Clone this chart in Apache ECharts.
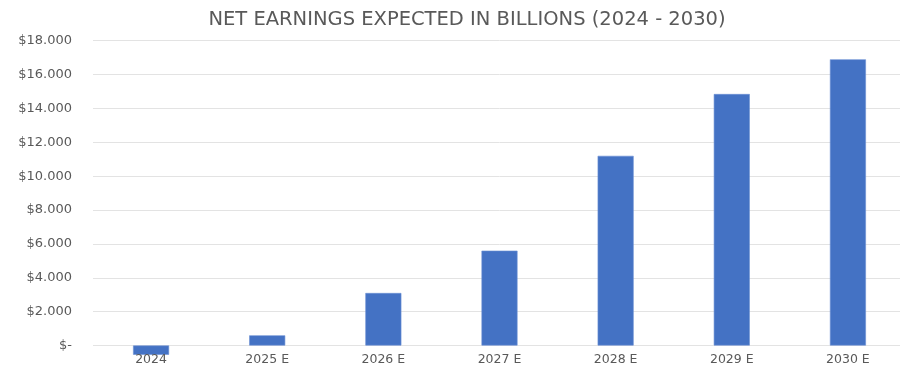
<!DOCTYPE html>
<html>
<head>
<meta charset="utf-8">
<script src="https://cdn.jsdelivr.net/npm/echarts@6/dist/echarts.min.js"></script>
<style>
html,body{margin:0;padding:0;background:#fff;overflow:hidden;width:900px;height:368px;}
#chart{width:910px;height:368px;}
</style>
</head>
<body>
<div id="chart"></div>
<script>
var categories = ['2024', '2025 E', '2026 E', '2027 E', '2028 E', '2029 E', '2030 E'];
var netEarnings = [-550, 600, 3100, 5600, 11200, 14850, 16900];
var yTickValues = [0, 2000, 4000, 6000, 8000, 10000, 12000, 14000, 16000, 18000];
var yTickLabels = ['$-', '$2.000', '$4.000', '$6.000', '$8.000', '$10.000', '$12.000', '$14.000', '$16.000', '$18.000'];
var titleText = 'NET EARNINGS EXPECTED IN BILLIONS (2024 - 2030)';

var chart = echarts.init(document.getElementById('chart'), null, {renderer: 'canvas'});
chart.setOption({
  animation: false,
  backgroundColor: '#ffffff',
  textStyle: {fontFamily: 'DejaVu Sans'},
  title: {
    text: titleText,
    left: 462,
    top: 5,
    textAlign: 'center',
    textStyle: {fontFamily: 'DejaVu Sans', fontSize: 19.5, fontWeight: 'normal', color: '#595959'}
  },
  grid: {left: 93, top: 40.7, width: 813, bottom: 22.5, containLabel: false},
  xAxis: {
    type: 'category',
    data: categories,
    axisLine: {show: false},
    axisTick: {show: false},
    axisLabel: {color: '#595959', fontSize: 12.5, margin: 8, fontFamily: 'DejaVu Sans'},
    z: 10
  },
  yAxis: {
    type: 'value',
    min: 0,
    max: 18000,
    interval: 2000,
    axisLine: {show: false},
    axisTick: {show: false},
    splitLine: {lineStyle: {color: '#e3e3e3', width: 1}},
    axisLabel: {
      color: '#595959', fontSize: 13, margin: 21, fontFamily: 'DejaVu Sans',
      formatter: function (v) {
        var i = yTickValues.indexOf(v);
        return i >= 0 ? yTickLabels[i] : '';
      }
    }
  },
  series: [{
    type: 'bar',
    data: netEarnings,
    barWidth: 36,
    clip: false,
    itemStyle: {color: '#4472C4', borderColor: '#6a8fd4', borderWidth: 0.6}
  }]
});
</script>
</body>
</html>
